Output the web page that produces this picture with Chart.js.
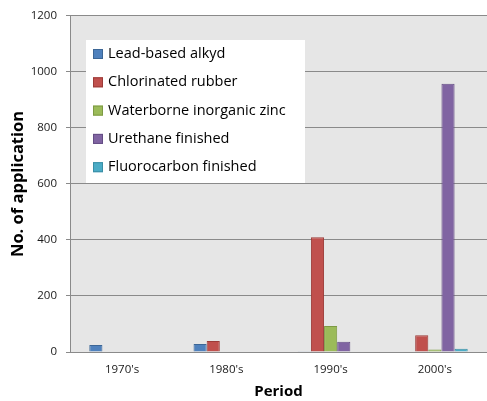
<!DOCTYPE html>
<html>
<head>
<meta charset="utf-8">
<script src="https://cdn.jsdelivr.net/npm/chart.js@4"></script>
<style>
  html, body { margin: 0; padding: 0; background: #fff; }
  #wrap { width: 487px; height: 401px; }
</style>
</head>
<body>
<div id="wrap"><canvas id="appChart" width="487" height="401"></canvas></div>
<script>
// --- Chart data ---
const periods = ["1970's", "1980's", "1990's", "2000's"];
const seriesNames = ['Lead-based alkyd', 'Chlorinated rubber', 'Waterborne inorganic zinc', 'Urethane finished', 'Fluorocarbon finished'];
const leadBasedAlkyd = [25, 29, 3, null];
const chlorinatedRubber = [null, 39, 410, 60];
const waterborneZinc = [null, null, 93, 9];
const urethaneFinished = [null, null, 37, 958];
const fluorocarbonFinished = [null, null, null, 12];
const yTicks = [0, 200, 400, 600, 800, 1000, 1200];

const fillColors = ['#4f81bd', '#c0504d', '#9bbb59', '#8064a2', '#4bacc6'];
const edgeColors = ['#3c6696', '#9c3b38', '#7d9a44', '#644d84', '#3a8ea5'];
const seriesValues = [leadBasedAlkyd, chlorinatedRubber, waterborneZinc, urethaneFinished, fluorocarbonFinished];

const FONT = "'Open Sans', 'Liberation Sans', sans-serif";

// Grey plot background, like the Excel original
const plotBackground = {
    id: 'plotBackground',
    beforeDraw(chart) {
        const { ctx, chartArea } = chart;
        ctx.save();
        ctx.fillStyle = '#e6e6e6';
        ctx.fillRect(chartArea.left, chartArea.top, chartArea.right - chartArea.left, chartArea.bottom - chartArea.top);
        ctx.restore();
    }
};

// Legend box floating inside the plot area
const insideLegend = {
    id: 'insideLegend',
    afterDraw(chart) {
        const ctx = chart.ctx;
        const x = 86, y = 40, w = 219, h = 143;
        ctx.save();
        ctx.fillStyle = '#ffffff';
        ctx.fillRect(x, y, w, h);
        ctx.font = '14.5px ' + FONT;
        ctx.textBaseline = 'middle';
        chart.data.datasets.forEach((ds, i) => {
            const cy = 54 + i * 28.3;
            ctx.fillStyle = ds.backgroundColor;
            ctx.fillRect(93, cy - 5, 10, 10);
            ctx.strokeStyle = ds.borderColor;
            ctx.lineWidth = 1;
            ctx.strokeRect(93.5, cy - 4.5, 9, 9);
            ctx.fillStyle = '#000000';
            ctx.fillText(ds.label, 108, cy);
        });
        ctx.restore();
    }
};

const ctx = document.getElementById('appChart').getContext('2d');
const appChart = new Chart(ctx, {
    type: 'bar',
    data: {
        labels: periods,
        datasets: seriesNames.map((name, i) => ({
            label: name,
            data: seriesValues[i],
            backgroundColor: fillColors[i],
            borderColor: edgeColors[i],
            borderWidth: 1,
            categoryPercentage: 0.63,
            barPercentage: 1.0
        }))
    },
    options: {
        responsive: false,
        animation: false,
        layout: { padding: { top: 15, right: 0, left: 0, bottom: 0 } },
        plugins: {
            legend: { display: false },
            tooltip: { enabled: false }
        },
        scales: {
            x: {
                grid: { display: false, drawTicks: false },
                border: { display: false },
                ticks: { font: { family: FONT, size: 11.5 }, color: '#1a1a1a', padding: 11 },
                title: {
                    display: true,
                    text: 'Period',
                    font: { family: FONT, size: 15, weight: 'bold' },
                    color: '#000',
                    padding: 0
                },
                afterFit(scale) { scale.height = 49; }
            },
            y: {
                min: 0,
                max: 1200,
                afterBuildTicks(scale) { scale.ticks = yTicks.map(v => ({ value: v })); },
                grid: { color: '#8a8a8a', lineWidth: 1, tickLength: 4 },
                border: { color: '#8a8a8a' },
                ticks: {
                    font: { family: FONT, size: 11.5 },
                    color: '#1a1a1a',
                    padding: 9,
                    callback: value => String(value)
                },
                title: {
                    display: true,
                    text: 'No. of application',
                    font: { family: FONT, size: 16.5, weight: 'bold' },
                    color: '#000',
                    padding: { top: 8, bottom: 0 }
                },
                afterFit(scale) { scale.width = 70; }
            }
        }
    },
    plugins: [plotBackground, insideLegend]
});
</script>
</body>
</html>
